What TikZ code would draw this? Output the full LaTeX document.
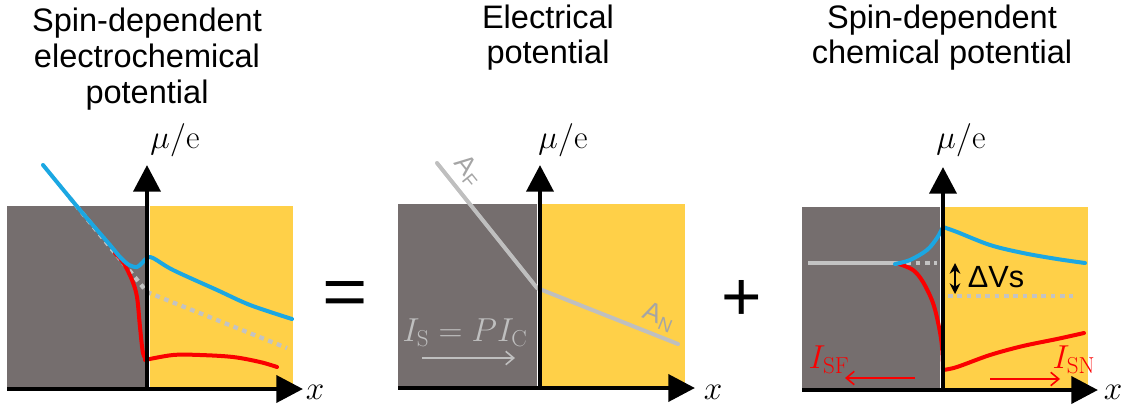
\documentclass[tikz,border=0pt]{standalone}
\usepackage[no-math]{fontspec}
\setmainfont{Liberation Sans}
\usetikzlibrary{arrows.meta}
\definecolor{fgray}{RGB}{117,110,110}
\definecolor{nyellow}{RGB}{255,208,72}
\definecolor{sblue}{RGB}{27,167,226}
\definecolor{sred}{RGB}{250,0,0}
\definecolor{lgray}{RGB}{191,191,191}
\definecolor{dgray}{RGB}{195,195,195}
\definecolor{labgray}{RGB}{165,165,165}
\begin{document}
\begin{tikzpicture}[x=0.75pt,y=-0.75pt,
  axis/.style={line width=3.6pt,-{Triangle[length=20pt,width=20pt]}},
  fbox/.style={fill=fgray,draw=none},
  nbox/.style={fill=nyellow,draw=none},
  curve/.style={line width=3pt,line cap=round,line join=round},
  dotline/.style={line width=3.2pt,dgray,dash pattern=on 3.5pt off 3.5pt},
  title/.style={font=\fontsize{24.4}{28}\selectfont,anchor=base,inner sep=0pt},
  mlab/.style={font=\fontsize{24}{28}\selectfont,inner sep=0pt},
  thinarr/.style={line width=1.2pt,-{Straight Barb[length=6pt,width=10pt]}},
  opsym/.style={font=\fontsize{52}{56}\selectfont,inner sep=0pt},
  alab/.style={text=labgray,font=\fontsize{20}{22}\selectfont,inner sep=0pt},
]
\useasboundingbox (0,0) rectangle (1129,408);

% ---------- titles ----------
\node[title] (t1a) at (147,31) {Spin-dependent};
\node[title] (t1b) at (147,67) {electrochemical};
\node[title] (t1c) at (147,103) {potential};
\node[title] (t2a) at (548,28) {Electrical};
\node[title] (t2b) at (548,63) {potential};
\node[title] (t3a) at (942,28) {Spin-dependent};
\node[title] (t3b) at (942,63) {chemical potential};

% ---------- operators ----------
\node[opsym,xscale=1.12,transform shape] (eq) at (345,298) {=};
\node[opsym] (plus) at (742,300) {+};

% ================= panel 1 =================
\fill[fbox] (7,206) rectangle (145,389);
\fill[nbox] (150,206) rectangle (293,389);
\draw[dotline] (70,198) -- (147,292) -- (287,348);
\draw[curve,sred] plot[smooth,tension=0.55] coordinates {(115,253) (123,262) (132,280) (137,297) (140,327) (143,353) (147,360)};
\draw[curve,sred] plot[smooth,tension=0.55] coordinates {(145,360) (173,355) (200,355) (233,357) (260,362) (277,367)};
\draw[curve,sblue] plot[smooth,tension=0.5] coordinates {(43,165) (80,210) (110,245) (120,257) (129,265) (137,267) (142,263) (147,258) (153,258) (173,270) (217,290) (250,305) (292,319)};
\coordinate (o1) at (147,389);
\coordinate (l1) at (7,389);
\coordinate (y1) at (147,165);
\coordinate (x1) at (303,389);
\draw[axis] (o1) -- (y1);
\draw[axis] (l1) -- (x1);
\node[mlab,anchor=base] (mu1) at (175,148) {$\mu/\mathrm{e}$};
\node[mlab] (xl1) at (315,392) {$x$};

% ================= panel 2 =================
\fill[fbox] (398,204) rectangle (537,388);
\fill[nbox] (542,204) rectangle (685,388);
\coordinate (e1) at (437,163);
\coordinate (e2) at (537,288);
\coordinate (e3) at (678,344);
\draw[curve,lgray] (e1) -- (e2) -- (e3);
\node[alab,rotate=-51] (af) at (468,171) {A\textsubscript{F}};
\node[alab,rotate=-21.7] (an) at (659,317) {A\textsubscript{N}};
\node[mlab,text=lgray] (is) at (465,333) {$I_{\mathrm{S}}=PI_{\mathrm{C}}$};
\coordinate (isa) at (422,358);
\coordinate (isb) at (515,358);
\draw[thinarr,lgray] (isa) -- (isb);
\coordinate (o2) at (540,388);
\coordinate (l2) at (398,388);
\coordinate (y2) at (540,165);
\coordinate (x2) at (695,388);
\draw[axis] (o2) -- (y2);
\draw[axis] (l2) -- (x2);
\node[mlab,anchor=base] (mu2) at (563,148) {$\mu/\mathrm{e}$};
\node[mlab] (xl2) at (713,392) {$x$};

% ================= panel 3 =================
\fill[fbox] (802,207) rectangle (940,390);
\fill[nbox] (945,207) rectangle (1088,390);
\coordinate (g1) at (808,263);
\coordinate (g2) at (897,263);
\coordinate (g3) at (937,263);
\draw[line width=3.2pt,dgray] (g1) -- (g2);
\draw[dotline] (g2) -- (g3);
\coordinate (g4) at (948,296);
\coordinate (g5) at (1073,296);
\draw[dotline] (g4) -- (g5);
\draw[curve,sred] plot[smooth,tension=0.55] coordinates {(899,264) (913,270) (923,282) (933,303) (939,327) (942,347) (943,370)};
\draw[curve,sred] plot[smooth,tension=0.55] coordinates {(943,370) (957,367) (990,355) (1023,346) (1057,339) (1084,333)};
\draw[curve,sblue] plot[smooth,tension=0.55] coordinates {(895,264) (910,260) (927,250) (937,238) (943,227)};
\draw[curve,sblue] plot[smooth,tension=0.55] coordinates {(943,227) (957,232) (990,245) (1023,253) (1057,259) (1085,263)};
\coordinate (o3) at (943,390);
\coordinate (l3) at (802,390);
\coordinate (y3) at (943,167);
\coordinate (x3) at (1098,390);
\draw[axis] (o3) -- (y3);
\draw[axis] (l3) -- (x3);
\coordinate (dv1) at (955,263);
\coordinate (dv2) at (955,294);
\draw[line width=1.6pt,{Stealth[length=8pt,width=8pt]}-{Stealth[length=8pt,width=8pt]}] (dv1) -- (dv2);
\node[font=\fontsize{23}{25}\selectfont,inner sep=0pt] (dvs) at (996,277) {ΔVs};
\node[mlab,text=sred] (isf) at (829,360) {$I_{\mathrm{SF}}$};
\node[mlab,text=sred] (isn) at (1074,360) {$I_{\mathrm{SN}}$};
\coordinate (sfa) at (915,378);
\coordinate (sfb) at (845,378);
\draw[thinarr,sred] (sfa) -- (sfb);
\coordinate (sna) at (990,379);
\coordinate (snb) at (1060,379);
\draw[thinarr,sred] (sna) -- (snb);
\node[mlab,anchor=base] (mu3) at (961,148) {$\mu/\mathrm{e}$};
\node[mlab] (xl3) at (1113,392) {$x$};
\end{tikzpicture}
\end{document}
